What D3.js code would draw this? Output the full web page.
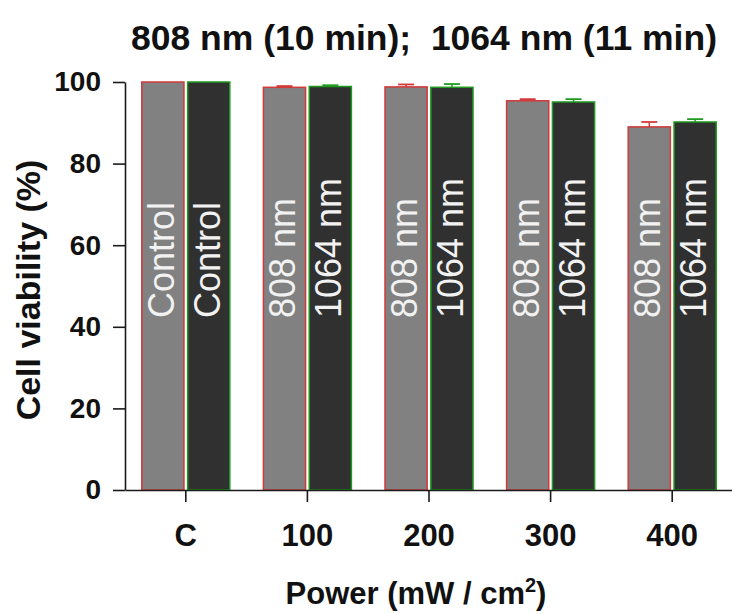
<!DOCTYPE html>
<html>
<head>
<meta charset="utf-8">
<script src="https://cdn.jsdelivr.net/npm/d3@7"></script>
<style>
  body { margin: 0; background: #fff; }
  svg { display: block; font-family: Arial, "Liberation Sans", sans-serif; }
</style>
</head>
<body>
<div id="chart"></div>
<script>
/**
 * DATA
 * */
const groups = ["C", "100", "200", "300", "400"];
const nm808 = [100, 98.7, 98.8, 95.4, 89.0];
const nm808Err = [0, 0.3, 0.6, 0.4, 1.2];
const nm1064 = [100, 98.9, 98.7, 95.1, 90.2];
const nm1064Err = [0, 0.3, 0.8, 0.7, 0.7];
const labels808 = ["Control", "808 nm", "808 nm", "808 nm", "808 nm"];
const labels1064 = ["Control", "1064 nm", "1064 nm", "1064 nm", "1064 nm"];
const yTicks = [0, 20, 40, 60, 80, 100];

/**
 * CONSTANTS
 * */
const width = 732,
  height = 614,
  margin = { top: 82, bottom: 124, left: 125, right: -1 };
const grayFill = "#818181", darkFill = "#303030",
  redStroke = "#d23a3a", greenStroke = "#1e9a1e", axisColor = "#1a1a1a";

const series = [
  { key: "808", values: nm808, err: nm808Err, labels: labels808, fill: grayFill, stroke: redStroke },
  { key: "1064", values: nm1064, err: nm1064Err, labels: labels1064, fill: darkFill, stroke: greenStroke }
];

const svg = d3.select("#chart")
  .append("svg")
  .attr("width", width)
  .attr("height", height);

const x = d3.scaleBand()
  .domain(groups)
  .range([margin.left, width - margin.right])
  .padding(0);

const x1 = d3.scaleBand()
  .domain(series.map(s => s.key))
  .range([-44, 44])
  .paddingInner(0.08);

const y = d3.scaleLinear()
  .domain([0, 100])
  .range([height - margin.bottom, margin.top]);

// bars
const gSeries = svg.append("g")
  .selectAll("g")
  .data(series)
  .join("g");

gSeries.selectAll("rect")
  .data(s => s.values.map((v, i) => ({ v, i, s })))
  .join("rect")
  .attr("x", d => x(groups[d.i]) + x.bandwidth() / 2 + x1(d.s.key))
  .attr("y", d => y(d.v))
  .attr("width", x1.bandwidth())
  .attr("height", d => y(0) - y(d.v))
  .attr("fill", d => d.s.fill)
  .attr("stroke", d => d.s.stroke)
  .attr("stroke-width", 1.5);

// error bars (upper only)
gSeries.selectAll("g.err")
  .data(s => s.values.map((v, i) => ({ v, i, e: s.err[i], s })).filter(d => d.e > 0))
  .join("g")
  .attr("class", "err")
  .each(function (d) {
    const cx = x(groups[d.i]) + x.bandwidth() / 2 + x1(d.s.key) + x1.bandwidth() / 2;
    const g = d3.select(this);
    g.append("line")
      .attr("x1", cx).attr("x2", cx)
      .attr("y1", y(d.v)).attr("y2", y(d.v + d.e))
      .attr("stroke", d.s.stroke).attr("stroke-width", 1.5);
    g.append("line")
      .attr("x1", cx - 8).attr("x2", cx + 8)
      .attr("y1", y(d.v + d.e)).attr("y2", y(d.v + d.e))
      .attr("stroke", d.s.stroke).attr("stroke-width", 1.8);
  });

// labels inside bars
gSeries.selectAll("text")
  .data(s => s.labels.map((t, i) => ({ t, i, s })))
  .join("text")
  .attr("transform", d => {
    const cx = x(groups[d.i]) + x.bandwidth() / 2 + x1(d.s.key) + x1.bandwidth() / 2;
    return `translate(${cx + 11},318) rotate(-90)`;
  })
  .attr("fill", "#f2f2f2")
  .attr("font-size", 36)
  .text(d => d.t);

// y axis
svg.append("g")
  .attr("transform", `translate(${margin.left},0)`)
  .call(d3.axisLeft(y).tickValues(yTicks).tickSize(12).tickPadding(12).tickSizeOuter(0))
  .call(g => g.selectAll("path, line").attr("stroke", axisColor).attr("stroke-width", 1.6))
  .call(g => g.selectAll("text")
    .attr("font-size", 28)
    .attr("font-weight", "bold")
    .attr("font-family", "Arial, 'Liberation Sans', sans-serif")
    .attr("fill", "#111"));

// x axis
svg.append("g")
  .attr("transform", `translate(0,${y(0)})`)
  .call(d3.axisBottom(x).tickSize(12).tickPadding(22).tickSizeOuter(0))
  .call(g => g.selectAll("path, line").attr("stroke", axisColor).attr("stroke-width", 1.6))
  .call(g => g.selectAll("text")
    .attr("font-size", 31)
    .attr("font-weight", "bold")
    .attr("font-family", "Arial, 'Liberation Sans', sans-serif")
    .attr("fill", "#111"));

// title
svg.append("text")
  .attr("x", 424)
  .attr("y", 50)
  .attr("text-anchor", "middle")
  .attr("font-size", 35.5)
  .attr("font-weight", "bold")
  .attr("fill", "#111")
  .attr("xml:space", "preserve")
  .style("white-space", "pre")
  .text("808 nm (10 min);  1064 nm (11 min)");

// y title
svg.append("text")
  .attr("transform", "translate(40,290) rotate(-90)")
  .attr("text-anchor", "middle")
  .attr("font-size", 34)
  .attr("font-weight", "bold")
  .attr("fill", "#111")
  .text("Cell viability (%)");

// x title
const xt = svg.append("text")
  .attr("x", 416)
  .attr("y", 604)
  .attr("text-anchor", "middle")
  .attr("font-size", 31)
  .attr("font-weight", "bold")
  .attr("fill", "#111");
xt.append("tspan").text("Power (mW / cm");
xt.append("tspan").attr("font-size", 20).attr("dy", -12).text("2");
xt.append("tspan").attr("dy", 12).text(")");
</script>
</body>
</html>
